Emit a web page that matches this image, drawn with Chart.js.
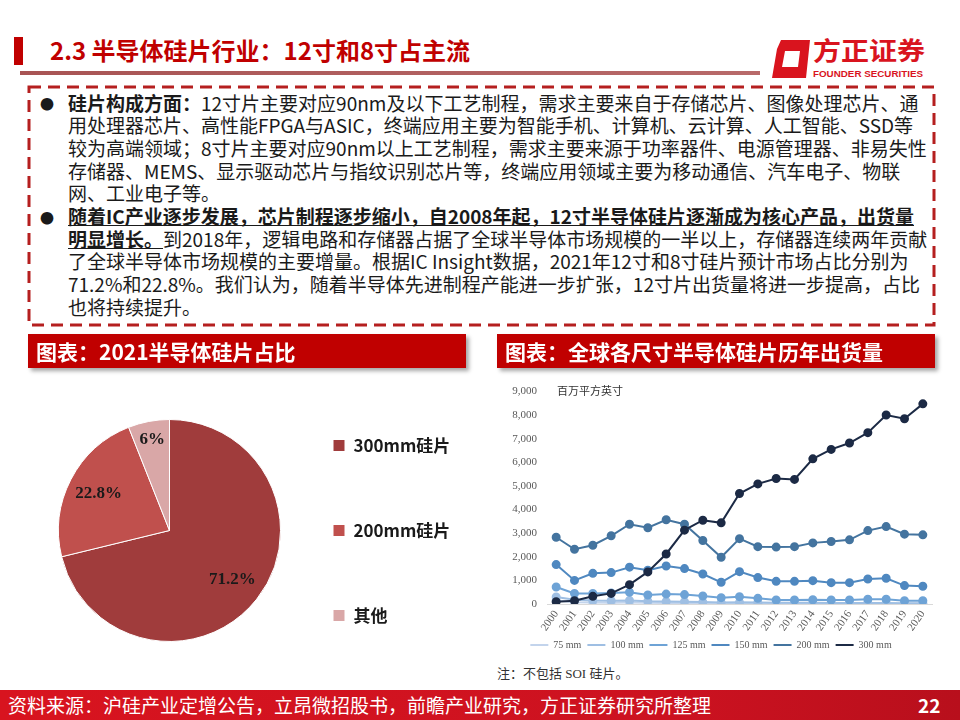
<!DOCTYPE html>
<html lang="zh-CN">

<head>
    <meta charset="UTF-8" />
    <script src="https://cdn.jsdelivr.net/npm/chart.js@4.4.1/dist/chart.umd.min.js"></script>
    <style>
        body { margin: 0; }
        #page { position: relative; width: 960px; height: 720px; overflow: hidden; background: #fff;
                font-family: "Noto Sans CJK SC", sans-serif; color: #1a1a1a; }
        .abs { position: absolute; }
        .line { white-space: nowrap; height: 22.7px; line-height: 22.7px; }
        .bar { background: #c00000; color: #fff; font-weight: bold; font-size: 21px; line-height: 34px;
               box-shadow: 3px 3px 4px rgba(0, 0, 0, 0.35); padding-left: 8px; box-sizing: border-box; }
        canvas { position: absolute; }
    </style>
</head>

<body>
<div id="page">
    <!-- heading -->
    <div class="abs" style="left:14px;top:37px;width:9px;height:28px;background:#c00000"></div>
    <div class="abs" style="left:50px;top:33px;font-size:24px;font-weight:bold;color:#c00000;line-height:34px;white-space:nowrap">2.3 半导体硅片行业：12寸和8寸占主流</div>
    <div class="abs" style="left:20px;top:71px;width:740px;height:4px;background:linear-gradient(90deg,#a85454,#b86a6a)"></div>
    <svg class="abs" style="left:768px;top:36px" width="170" height="48">
        <path fill="#d9141e" fill-rule="evenodd"
              d="M13 4 L42 4 L38 42 L4 42 L9 13 Z M17 15 L32 15 L30 31 L14 31 Z" />
        <text x="45" y="24" font-size="25" font-weight="bold" fill="#d9141e"
              font-family="Noto Sans CJK SC" textLength="112" lengthAdjust="spacingAndGlyphs">方正证券</text>
        <text x="45" y="41" font-size="9.5" font-weight="bold" fill="#d9141e"
              font-family="Liberation Sans Narrow, Liberation Sans" textLength="110" lengthAdjust="spacingAndGlyphs">FOUNDER SECURITIES</text>
    </svg>

    <!-- text box -->
    <svg class="abs" style="left:0;top:0" width="960" height="340">
        <rect x="29" y="87" width="905" height="238" fill="none" stroke="#b51f1f" stroke-width="3" stroke-dasharray="12 7" />
    </svg>
    <div class="abs" style="left:40px;top:92px;font-size:14px;line-height:22.7px">●</div>
    <div class="abs" style="left:40px;top:205.5px;font-size:14px;line-height:22.7px">●</div>
    <div class="abs" style="left:68px;top:91.6px;font-size:19px">
        <div class="line"><b>硅片构成方面：</b>12寸片主要对应90nm及以下工艺制程，需求主要来自于存储芯片、图像处理芯片、通</div>
        <div class="line">用处理器芯片、高性能FPGA与ASIC，终端应用主要为智能手机、计算机、云计算、人工智能、SSD等</div>
        <div class="line">较为高端领域；8寸片主要对应90nm以上工艺制程，需求主要来源于功率器件、电源管理器、非易失性</div>
        <div class="line">存储器、MEMS、显示驱动芯片与指纹识别芯片等，终端应用领域主要为移动通信、汽车电子、物联</div>
        <div class="line">网、工业电子等。</div>
        <div class="line"><b><u>随着IC产业逐步发展，芯片制程逐步缩小，自2008年起，12寸半导体硅片逐渐成为核心产品，出货量</u></b></div>
        <div class="line"><b><u>明显增长。</u></b>到2018年，逻辑电路和存储器占据了全球半导体市场规模的一半以上，存储器连续两年贡献</div>
        <div class="line">了全球半导体市场规模的主要增量。根据IC Insight数据，2021年12寸和8寸硅片预计市场占比分别为</div>
        <div class="line">71.2%和22.8%。我们认为，随着半导体先进制程产能进一步扩张，12寸片出货量将进一步提高，占比</div>
        <div class="line">也将持续提升。</div>
    </div>

    <canvas id="pie" width="456" height="335" style="left:0;top:358px"></canvas>
    <canvas id="lines" width="450" height="285" style="left:490px;top:375px"></canvas>

    <!-- section headers -->
    <div class="abs bar" style="left:28px;top:334px;width:438px;height:34px">图表：2021半导体硅片占比</div>
    <div class="abs bar" style="left:497px;top:334px;width:438px;height:34px">图表：全球各尺寸半导体硅片历年出货量</div>

    <div class="abs" style="left:557px;top:382px;font-size:11px;line-height:16px;color:#333">百万平方英寸</div>
    <div class="abs" style="left:497px;top:665px;font-size:13px;line-height:18px;color:#333;font-family:'Liberation Serif','Noto Sans CJK SC',serif">注：不包括 SOI 硅片。</div>

    <!-- footer -->
    <div class="abs" style="left:0;top:690px;width:960px;height:30px;background:linear-gradient(90deg,#d8141f,#cc1220 70%,#b80f1c)"></div>
    <div class="abs" style="left:8px;top:690px;font-size:19px;line-height:30px;color:#fff;white-space:nowrap">资料来源：沪硅产业定增公告，立昂微招股书，前瞻产业研究，方正证券研究所整理</div>
    <div class="abs" style="left:918px;top:690px;font-size:19px;line-height:30px;color:#fff;font-weight:bold">22</div>
</div>

<script>
    // pie: 2021 share by wafer size (%)
    const pieLabels = ['300mm硅片', '200mm硅片', '其他'];
    const pieShares = [71.2, 22.8, 6];

    // lines: shipments by wafer size, million sq. inches
    const years = ['2000', '2001', '2002', '2003', '2004', '2005', '2006', '2007', '2008', '2009', '2010',
                   '2011', '2012', '2013', '2014', '2015', '2016', '2017', '2018', '2019', '2020'];
    const seriesNames = ['75 mm', '100 mm', '125 mm', '150 mm', '200 mm', '300 mm'];
    const mm75 = [150, 70, 60, 55, 60, 50, 45, 40, 30, 25, 25, 20, 15, 15, 15, 12, 12, 12, 12, 10, 8];
    const mm100 = [300, 180, 150, 140, 150, 120, 110, 100, 80, 60, 70, 60, 50, 50, 50, 45, 45, 45, 45, 35, 30];
    const mm125 = [720, 450, 450, 470, 500, 380, 420, 400, 340, 270, 310, 240, 170, 170, 180, 170, 170, 200, 200, 140, 140];
    const mm150 = [1670, 1000, 1300, 1330, 1560, 1430, 1610, 1500, 1270, 920, 1370, 1120, 960, 960, 990, 905, 905, 1060, 1090, 780, 750];
    const mm200 = [2830, 2320, 2490, 2890, 3380, 3230, 3570, 3380, 2690, 1980, 2770, 2430, 2410, 2430, 2590, 2650, 2720, 3110, 3280, 2960, 2930];
    const mm300 = [100, 140, 325, 450, 820, 1360, 2120, 3130, 3550, 3440, 4680, 5090, 5320, 5280, 6150, 6550, 6820, 7260, 8010, 7850, 8480];

    const pieColors = ['#a03c3c', '#c0504d', '#d9a7a7'];
    const lineColors = ['#c3d4ec', '#9fbfe3', '#6ea3d6', '#4f88c0', '#44749f', '#1c2a45'];
    const serif = '"Liberation Serif", "Times New Roman", serif';

    const pieValueLabels = {
        id: 'pieValueLabels',
        afterDatasetsDraw(chart) {
            const ctx = chart.ctx;
            const meta = chart.getDatasetMeta(0);
            ctx.save();
            ctx.font = 'bold 17px ' + serif;
            ctx.fillStyle = '#1a1a1a';
            ctx.textAlign = 'center';
            ctx.textBaseline = 'middle';
            meta.data.forEach((arc, i) => {
                const p = arc.getProps(['x', 'y', 'startAngle', 'endAngle', 'outerRadius']);
                const mid = (p.startAngle + p.endAngle) / 2;
                const share = chart.data.datasets[0].data[i];
                const r = p.outerRadius * (share < 10 ? 0.83 : 0.72);
                ctx.fillText(share + '%', p.x + Math.cos(mid) * r, p.y + Math.sin(mid) * r);
            });
            ctx.restore();
        }
    };

    new Chart(document.getElementById('pie').getContext('2d'), {
        type: 'pie',
        data: {
            labels: pieLabels,
            datasets: [{
                data: pieShares,
                backgroundColor: pieColors,
                borderColor: '#ffffff',
                borderWidth: 1
            }]
        },
        options: {
            responsive: false,
            animation: false,
            radius: 111,
            layout: { padding: { left: 74, top: 10 } },
            plugins: {
                legend: {
                    position: 'right',
                    labels: {
                        boxWidth: 12,
                        boxHeight: 12,
                        padding: 68,
                        color: '#1a1a1a',
                        font: { family: '"Noto Sans CJK SC", sans-serif', size: 17, weight: 'bold' }
                    }
                },
                tooltip: { enabled: false }
            }
        },
        plugins: [pieValueLabels]
    });

    const seriesData = [mm75, mm100, mm125, mm150, mm200, mm300];
    new Chart(document.getElementById('lines').getContext('2d'), {
        type: 'line',
        data: {
            labels: years,
            datasets: seriesData.map((values, i) => ({
                label: seriesNames[i],
                data: values,
                borderColor: lineColors[i],
                backgroundColor: lineColors[i],
                pointBackgroundColor: lineColors[i],
                pointBorderColor: lineColors[i],
                borderWidth: 2,
                pointRadius: 3.5,
                tension: 0,
                order: seriesData.length - i
            }))
        },
        options: {
            responsive: false,
            animation: false,
            locale: 'en-US',
            layout: { padding: { top: 16, right: 8 } },
            scales: {
                x: {
                    offset: true,
                    grid: { display: false, drawTicks: false },
                    border: { display: true, color: '#d9d9d9' },
                    ticks: {
                        autoSkip: false,
                        minRotation: 55,
                        maxRotation: 55,
                        padding: 4,
                        color: '#595959',
                        font: { family: serif, size: 11 }
                    },
                    afterFit(axis) { axis.height = 30; }
                },
                y: {
                    min: 0,
                    max: 9000,
                    grid: { display: false, drawTicks: false },
                    border: { display: false },
                    ticks: {
                        stepSize: 1000,
                        padding: 10,
                        color: '#595959',
                        font: { family: serif, size: 11 }
                    },
                    afterFit(axis) { axis.width = 57; }
                }
            },
            plugins: {
                legend: {
                    position: 'bottom',
                    labels: {
                        usePointStyle: true,
                        pointStyle: 'line',
                        pointStyleWidth: 18,
                        boxHeight: 8,
                        padding: 6,
                        color: '#595959',
                        font: { family: serif, size: 10 },
                        sort: (a, b) => a.datasetIndex - b.datasetIndex
                    }
                },
                tooltip: { enabled: false }
            }
        }
    });
</script>
</body>

</html>
